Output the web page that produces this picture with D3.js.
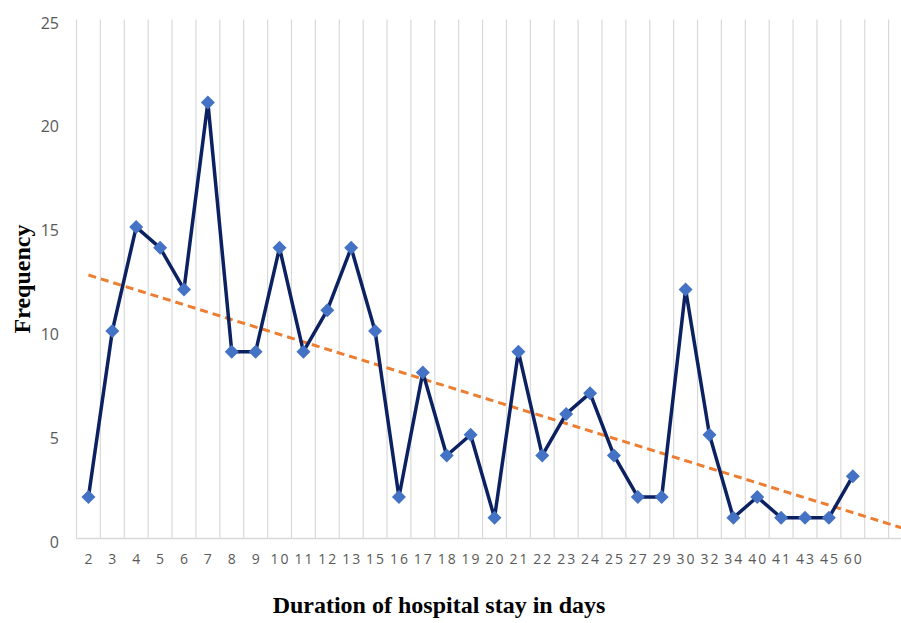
<!DOCTYPE html>
<html>
<head>
<meta charset="utf-8">
<script src="https://cdn.jsdelivr.net/npm/d3@7"></script>
<style>
  body { margin: 0; background: #fff; }
  svg { display: block; }
</style>
</head>
<body>
<div id="chart"></div>
<script>
const days = ["2","3","4","5","6","7","8","9","10","11","12","13","15","16","17","18","19","20","21","22","23","24","25","27","29","30","32","34","40","41","43","45","60"];
const frequency = [2,10,15,14,12,21,9,9,14,9,11,14,10,2,8,4,5,1,9,4,6,7,4,2,2,12,5,1,2,1,1,1,3];
const yTicks = [0,5,10,15,20,25];
// trendline runs 2 periods past the last category (empty slots on the axis)
const forwardSlots = ["f1","f2"];

const width = 901, height = 623;
const plot = { left: 76.5, right: 912.5, top: 19.5, bottom: 538.5 };

const svg = d3.select("#chart").append("svg")
  .attr("width", width)
  .attr("height", height);

const x = d3.scaleBand()
  .domain(days.concat(forwardSlots))
  .range([plot.left, plot.right]);

const y = d3.scaleLinear()
  .domain([0, 25])
  .range([plot.bottom, plot.top]);

const cx = d => x(d) + x.bandwidth() / 2;

// vertical gridlines at category edges
const edges = d3.range(x.domain().length + 1).map(i => plot.left + i * x.step());
svg.append("g").selectAll("line")
  .data(edges)
  .join("line")
  .attr("x1", d => d).attr("x2", d => d)
  .attr("y1", plot.top).attr("y2", plot.bottom)
  .attr("stroke", "#d9d9d9")
  .attr("stroke-width", 1.2);

// bottom axis line
svg.append("line")
  .attr("x1", plot.left).attr("x2", plot.right)
  .attr("y1", plot.bottom).attr("y2", plot.bottom)
  .attr("stroke", "#d9d9d9")
  .attr("stroke-width", 1.5);

// y tick labels
svg.append("g").selectAll("text")
  .data(yTicks)
  .join("text")
  .attr("x", 59)
  .attr("y", d => y(d) + 9)
  .attr("text-anchor", "end")
  .attr("fill", "#595959")
  .style("font-family", "'Open Sans', sans-serif")
  .style("font-size", "16px")
  .text(d => d);

// x tick labels
svg.append("g").selectAll("text")
  .data(days)
  .join("text")
  .attr("x", d => cx(d) + 1)
  .attr("y", 564)
  .attr("text-anchor", "middle")
  .attr("fill", "#595959")
  .style("font-family", "'Open Sans', sans-serif")
  .style("font-size", "14px")
  .style("letter-spacing", "2px")
  .text(d => d);

// linear trendline (least squares on category index)
const n = frequency.length;
const idx = d3.range(1, n + 1);
const mx = d3.mean(idx), my = d3.mean(frequency);
const slope = d3.sum(idx, (v, i) => (v - mx) * (frequency[i] - my)) / d3.sum(idx, v => (v - mx) ** 2);
const icpt = my - slope * mx;
const xi = i => plot.left + (i - 0.5) * x.step();
const tEnd = n + forwardSlots.length + 0.5;

svg.append("line")
  .attr("x1", xi(1)).attr("y1", y(icpt + slope))
  .attr("x2", xi(tEnd)).attr("y2", y(icpt + slope * tEnd))
  .attr("stroke", "#ed7d31")
  .attr("stroke-width", 3)
  .attr("stroke-dasharray", "8,5");

// data line
svg.append("path")
  .datum(frequency)
  .attr("fill", "none")
  .attr("stroke", "#0b2161")
  .attr("stroke-width", 3.5)
  .attr("stroke-linejoin", "round")
  .attr("d", d3.line().x((d, i) => cx(days[i])).y(d => y(d)));

// diamond markers
svg.append("g").selectAll("path")
  .data(frequency)
  .join("path")
  .attr("transform", (d, i) => `translate(${cx(days[i])},${y(d)})`)
  .attr("d", "M0,-7L7,0L0,7L-7,0Z")
  .attr("fill", "#4472c4");

// axis titles
svg.append("text")
  .attr("transform", `translate(30,${(plot.top + plot.bottom) / 2}) rotate(-90)`)
  .attr("text-anchor", "middle")
  .style("font-family", "'Liberation Serif', 'Times New Roman', serif")
  .style("font-weight", "bold")
  .style("font-size", "24px")
  .text("Frequency");

svg.append("text")
  .attr("x", 439)
  .attr("y", 613)
  .attr("text-anchor", "middle")
  .style("font-family", "'Liberation Serif', 'Times New Roman', serif")
  .style("font-weight", "bold")
  .style("font-size", "24px")
  .text("Duration of hospital stay in days");
</script>
</body>
</html>
